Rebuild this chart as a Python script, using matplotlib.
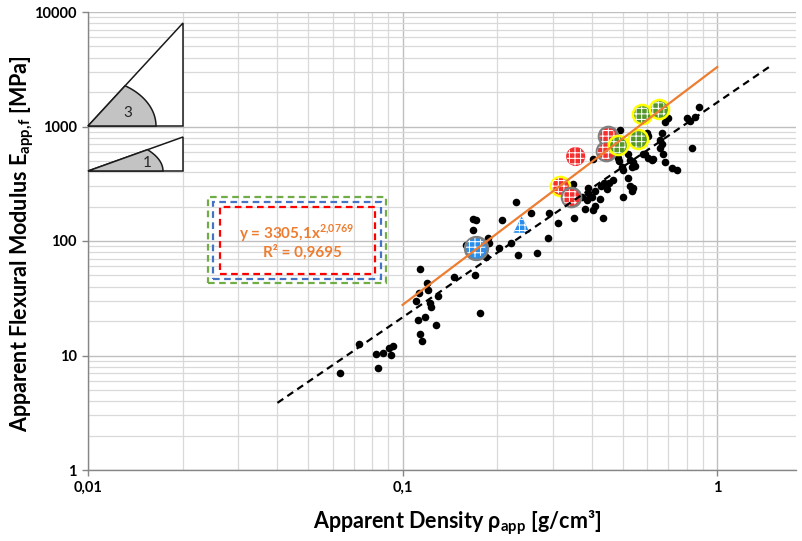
import numpy as np
import matplotlib
matplotlib.use("Agg")
import matplotlib.pyplot as plt
from matplotlib.patches import Polygon, Rectangle
from matplotlib.ticker import FixedLocator, FixedFormatter, LogLocator, NullFormatter

# ---------------------------------------------------------------- data
# literature data: apparent density [g/cm3] vs apparent flexural modulus [MPa]
density_lit = [0.0631, 0.0725, 0.0821, 0.0833, 0.0864, 0.0903, 0.0929, 0.0916,
               0.1133, 0.1192, 0.1124, 0.1100, 0.1201, 0.1219, 0.1228, 0.1116,
               0.1175, 0.1273, 0.1133, 0.1149, 0.1292, 0.1453, 0.1669, 0.1706,
               0.1669, 0.2287, 0.2064, 0.2553, 0.2913, 0.3111, 0.3498, 0.2891,
               0.2668, 0.2321, 0.2020, 0.1863, 0.1877, 0.1586, 0.2205, 0.1836,
               0.3876, 0.4900, 0.4018, 0.4828, 0.4864, 0.4972, 0.5009, 0.5195,
               0.5270, 0.5388, 0.5467, 0.5348, 0.5969, 0.6013, 0.5796, 0.6013,
               0.6191, 0.6237, 0.6565, 0.6662, 0.6565, 0.6711, 0.6810, 0.7168,
               0.7436, 0.6959, 0.6810, 0.7998, 0.8176, 0.8483, 0.8734, 0.8299,
               0.4653, 0.4519, 0.4357, 0.4263, 0.5195, 0.5270, 0.5348, 0.5009,
               0.4077, 0.3990, 0.3847, 0.4077, 0.4232, 0.4018, 0.3791, 0.4325,
               0.3709, 0.3876, 0.3472, 0.1758, 0.1694, 0.6660, 0.5884, 0.4455,
               0.5390]
modulus_lit = [7.10, 12.7, 10.4, 7.70, 10.6, 11.7, 12.2, 10.2,
               56.4, 43.4, 34.8, 30.2, 37.7, 28.5, 26.3, 20.6,
               21.9, 18.3, 15.3, 13.3, 33.4, 48.0, 157, 154,
               124, 221, 154, 177, 177, 145, 160, 107,
               77.8, 76.2, 86.0, 107, 97.0, 91.4, 97.0, 73.2,
               260, 923, 515, 536, 495, 439, 413, 581,
               505, 485, 456, 447, 886, 834, 581, 536,
               505, 525, 755, 710, 643, 581, 485, 430,
               413, 1175, 1084, 1175, 1128, 1199, 1466, 643,
               344, 324, 324, 305, 352, 305, 276, 240,
               276, 240, 226, 204, 235, 185, 192, 160,
               240, 293, 312, 23.3, 50.0, 869, 581, 282,
               293]

# own specimens
blue_circle_density = [0.1706]
blue_circle_modulus = [87.7]
blue_triangle_density = [0.2390]
blue_triangle_modulus = [139]
red_plain_density = [0.3549]
red_plain_modulus = [547]
red_yellow_density = [0.3155]
red_yellow_modulus = [305]
red_grey_density = [0.3420, 0.4486, 0.4420]
red_grey_modulus = [240, 818, 605]
green_density = [0.4828, 0.5587, 0.5754, 0.6517]
green_modulus = [683, 770, 1273, 1408]

# power-law fits
fit_own_coef, fit_own_exp = 3305.1, 2.0769
fit_own_range = [0.1, 1.0]
fit_lit_coef, fit_lit_exp = 1623.0, 1.877
fit_lit_range = [0.04, 1.5]
fit_label = "y = 3305,1x"
fit_label_exp = "2{,}0769"
fit_r2 = "R² = 0,9695"

x_ticks = [0.01, 0.1, 1]
x_tick_labels = ["0,01", "0,1", "1"]
y_ticks = [1, 10, 100, 1000, 10000]
y_tick_labels = ["1", "10", "100", "1000", "10000"]

# ---------------------------------------------------------------- style
plt.rcParams["font.family"] = ["Lato", "DejaVu Sans"]
plt.rcParams["hatch.linewidth"] = 0.75

W, H = 802, 541
fig = plt.figure(figsize=(W / 100, H / 100), dpi=100)


def fx(x):
    return x / W


def fy(y):
    return 1 - y / H


ax = fig.add_axes([fx(88), fy(470), (796 - 88) / W, (470 - 12) / H])
ax.set_xscale("log")
ax.set_yscale("log")
ax.set_xlim(0.01, 1.78)
ax.set_ylim(1, 10000)

ax.xaxis.set_major_locator(FixedLocator(x_ticks))
ax.xaxis.set_major_formatter(FixedFormatter(x_tick_labels))
ax.yaxis.set_major_locator(FixedLocator(y_ticks))
ax.yaxis.set_major_formatter(FixedFormatter(y_tick_labels))
ax.xaxis.set_minor_locator(LogLocator(base=10, subs=np.arange(2, 10), numticks=20))
ax.yaxis.set_minor_locator(LogLocator(base=10, subs=np.arange(2, 10), numticks=20))
ax.xaxis.set_minor_formatter(NullFormatter())
ax.yaxis.set_minor_formatter(NullFormatter())

ax.grid(which="major", color="#bfbfbf", lw=1.0)
ax.grid(which="minor", color="#d9d9d9", lw=0.9)
ax.set_axisbelow(True)

for side in ("top", "right"):
    ax.spines[side].set_visible(False)
for side in ("left", "bottom"):
    ax.spines[side].set_color("#868686")
    ax.spines[side].set_linewidth(1.0)
ax.tick_params(which="major", length=4, color="#868686", width=1.0,
               labelsize=10.5, pad=4)
ax.tick_params(which="minor", length=0)
for lab in ax.get_xticklabels() + ax.get_yticklabels():
    lab.set_fontweight("bold")
    lab.set_color("black")

# literature points
ax.scatter(density_lit, modulus_lit, s=30, c="black", lw=0, zorder=3)

# own specimens: coloured disc with rim, then a white grid pattern on top
blue = "#2a8fea"
red = "#f42f2f"
green = "#55962a"


def patterned(xs, ys, size, face, rim, marker="o"):
    ax.scatter(xs, ys, s=size, marker=marker, facecolor=face,
               edgecolor=rim if rim else "none", lw=1.8 if rim else 0, zorder=4)
    inner = size * (0.72 if rim else 0.9)
    ax.scatter(xs, ys, s=inner, marker=marker, facecolor="none",
               edgecolor="white", lw=0, hatch="+++", zorder=4)


patterned(blue_circle_density, blue_circle_modulus, 270, blue, "#7f7f7f")
patterned(blue_triangle_density, blue_triangle_modulus, 140, blue, None, marker="^")
patterned(red_plain_density, red_plain_modulus, 190, red, None)
patterned(red_yellow_density, red_yellow_modulus, 190, red, "#ffff00")
patterned(red_grey_density, red_grey_modulus, 190, red, "#7f7f7f")
patterned(green_density, green_modulus, 190, green, "#ffff00")

# trend lines
xo = np.geomspace(fit_own_range[0], fit_own_range[1], 50)
ax.plot(xo, fit_own_coef * xo ** fit_own_exp, color="#ed7d31", lw=1.6, zorder=5)
xl = np.geomspace(fit_lit_range[0], fit_lit_range[1], 50)
ax.plot(xl, fit_lit_coef * xl ** fit_lit_exp, color="black", lw=1.6,
        ls=(0, (3.2, 2.2)), zorder=5)

# axis titles
fig.text(fx(457), fy(523), r"Apparent Density ρ$_{\mathregular{app}}$ [g/cm³]",
         fontsize=15.5, fontweight="bold", ha="center", va="center")
fig.text(fx(22), fy(244), r"Apparent Flexural Modulus E$_{\mathregular{app{,}f}}$ [MPa]",
         fontsize=15.5, fontweight="bold", ha="center", va="center", rotation=90)

# fit equation with dashed frames
for (x0, y0, x1, y1), col in [((208, 197, 386, 283), "#70ad47"),
                              ((213, 202, 381, 279), "#4472c4"),
                              ((220, 207, 375, 274), "#ff0000")]:
    fig.add_artist(Rectangle((fx(x0), fy(y1)), (x1 - x0) / W, (y1 - y0) / H,
                             transform=fig.transFigure, fill=False, ec=col,
                             lw=1.6, ls=(0, (3, 2))))
fig.text(fx(297), fy(233), fit_label + r"$^{\mathregular{" + fit_label_exp + "}}$",
         color="#ed7d31", fontsize=11, fontweight="bold", ha="center", va="center")
fig.text(fx(302), fy(252), fit_r2, color="#ed7d31", fontsize=11,
         fontweight="bold", ha="center", va="center")


# loading-angle sketches
def angle_sketch(corner, width, height, a, b, label, label_pos):
    x0, y0 = corner
    tri = [(fx(x0), fy(y0)), (fx(x0 + width), fy(y0)), (fx(x0 + width), fy(y0 - height))]
    fig.add_artist(Polygon(tri, closed=True, transform=fig.transFigure,
                           facecolor="white", edgecolor="#1a1a1a", lw=1.1, zorder=2))
    t_end = np.arctan((height / width) * (a / b))
    t = np.linspace(t_end, 0, 40)
    pts = [(fx(x0), fy(y0))] + [(fx(x0 + a * np.cos(v)), fy(y0 - b * np.sin(v))) for v in t]
    fig.add_artist(Polygon(pts, closed=True, transform=fig.transFigure,
                           facecolor="#c3c3c3", edgecolor="#1a1a1a", lw=1.1, zorder=3))
    fig.text(fx(label_pos[0]), fy(label_pos[1]), label, fontsize=11,
             color="#262626", ha="center", va="center", zorder=4)


angle_sketch((88, 126), 95, 103, 68, 48, "3", (128, 113))
angle_sketch((88, 171), 95, 34, 75, 35, "1", (147, 163))

fig.savefig("out.png", dpi=100)
